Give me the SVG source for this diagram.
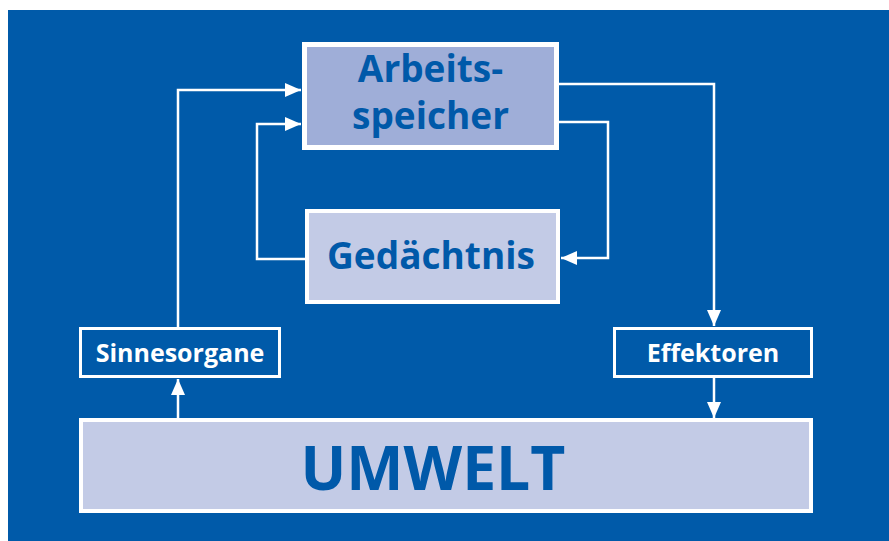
<svg xmlns="http://www.w3.org/2000/svg" width="889" height="541" viewBox="0 0 889 541">
<style>
.lbl{font-family:"Open Sans","Noto Sans","Liberation Sans",sans-serif;font-weight:bold;text-anchor:middle}
.dark{fill:#0059A9}
.white{fill:#FFFFFF}
.conn{fill:none;stroke:#FFFFFF;stroke-width:2.5}
</style>
<defs>
<marker id="ah" markerUnits="userSpaceOnUse" markerWidth="17" markerHeight="14" refX="16" refY="7" orient="auto">
<path d="M0,0 L16,7 L0,14 Z" fill="#FFFFFF"/>
</marker>
</defs>
<rect x="8" y="10" width="881" height="531" fill="#005AA9"/>
<g id="connectors">
<path class="conn" d="M178,327 V90 H301" marker-end="url(#ah)"/>
<path class="conn" d="M305,259 H257 V124 H301" marker-end="url(#ah)"/>
<path class="conn" d="M559,84 H714 V326" marker-end="url(#ah)"/>
<path class="conn" d="M559,122 H608 V258 H561" marker-end="url(#ah)"/>
<path class="conn" d="M178,418 V379" marker-end="url(#ah)"/>
<path class="conn" d="M714,378 V418" marker-end="url(#ah)"/>
</g>
<g id="arbeitsspeicher">
<rect x="304.5" y="44.5" width="252" height="103" fill="#9FAED8" stroke="#FFFFFF" stroke-width="5"/>
<text class="lbl dark" x="430.5" y="82" font-size="37">Arbeits-</text>
<text class="lbl dark" x="430.5" y="129" font-size="37">speicher</text>
</g>
<g id="gedaechtnis">
<rect x="307" y="211" width="251" height="91" fill="#C3CBE6" stroke="#FFFFFF" stroke-width="4"/>
<text class="lbl dark" x="431" y="269" font-size="37">Gedächtnis</text>
</g>
<g id="sinnesorgane">
<rect x="80.5" y="328.5" width="199" height="48" fill="#005AA9" stroke="#FFFFFF" stroke-width="3"/>
<text class="lbl white" x="180" y="362" font-size="25">Sinnesorgane</text>
</g>
<g id="effektoren">
<rect x="614.5" y="328.5" width="197" height="48" fill="#005AA9" stroke="#FFFFFF" stroke-width="3"/>
<text class="lbl white" x="713" y="362" font-size="25">Effektoren</text>
</g>
<g id="umwelt">
<rect x="81" y="420" width="730" height="91" fill="#C3CBE6" stroke="#FFFFFF" stroke-width="4"/>
<text class="lbl dark" x="433" y="490" font-size="60" textLength="265" lengthAdjust="spacingAndGlyphs">UMWELT</text>
</g>
</svg>
